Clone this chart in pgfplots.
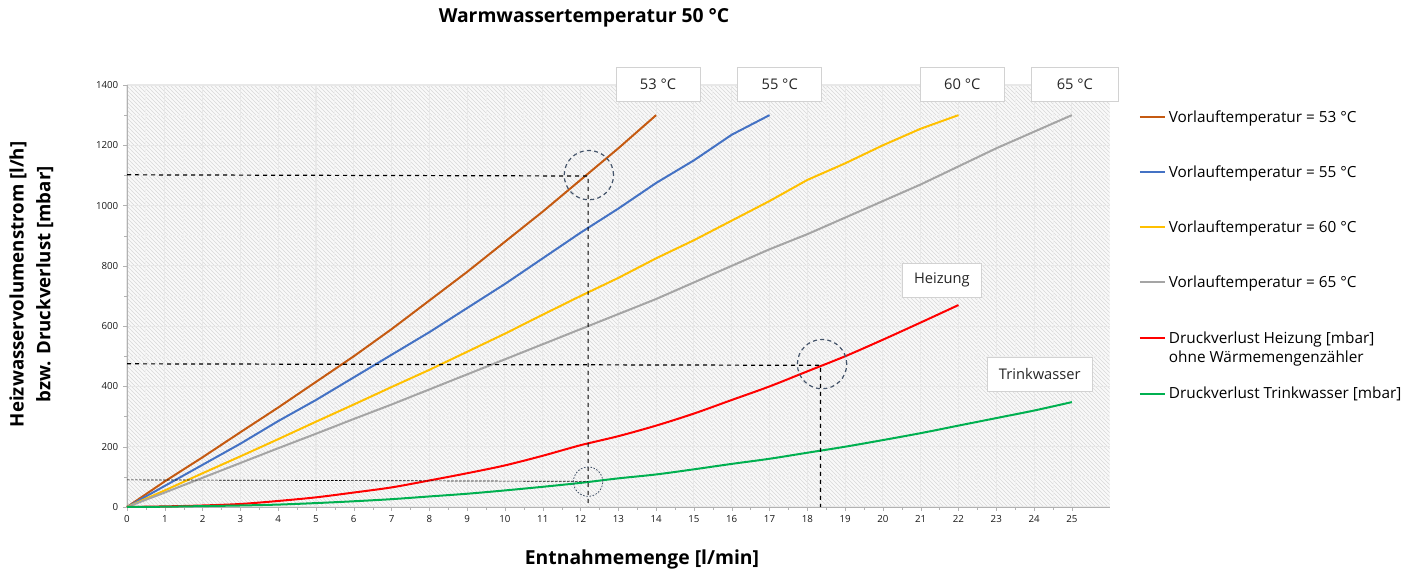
\documentclass[border=0pt]{standalone}
\usepackage{pgfplots}
\pgfplotsset{compat=1.18}
\usepackage{fontspec}
\setmainfont{Open Sans}
\usetikzlibrary{patterns}
\definecolor{corange}{HTML}{C55A11}
\definecolor{cblue}{HTML}{4472C4}
\definecolor{cyellow}{HTML}{FFC000}
\definecolor{cgray}{HTML}{A5A5A5}
\definecolor{cred}{HTML}{FF0000}
\definecolor{cgreen}{HTML}{00B050}
\definecolor{cslate}{HTML}{44546A}
\begin{document}
\begin{tikzpicture}
\path[use as bounding box] (0,0) rectangle (1062.75pt,428.25pt);
\begin{axis}[
  at={(95.25pt,48pt)}, anchor=south west,
  width=737pt, height=316.5pt, scale only axis,
  xmin=0, xmax=26, ymin=0, ymax=1400,
  xtick={0,...,25}, ytick={0,200,...,1400},
  minor y tick num=1, minor x tick num=1,
  grid=both,
  major grid style={gray!18, line width=0.8pt},
  minor grid style={gray!12, line width=0.6pt},
  axis x line*=bottom, axis y line*=left,
  axis line style={gray!60},
  tick style={gray!60},
  major tick length=3pt, minor tick length=2pt,
  tick align=outside,
  tick label style={font=\fontsize{7.3}{8}\selectfont, text=black!90},
  /pgf/number format/assume math mode=true,
  /pgf/number format/1000 sep={},
  axis background/.style={fill=gray!5, postaction={pattern=north west lines, pattern color=gray!30}},
  clip=false,
  legend style={at={(1.0254,0.953)}, anchor=north west, draw=none, fill=none,
    font=\fontsize{11.5}{14}\selectfont, row sep=27pt, cells={anchor=west, align=left}},
  legend cell align=left,
  legend image code/.code={\draw[#1, line width=1.5pt] (0pt,0pt) -- (19pt,0pt);},
  every axis plot/.append style={line width=1.5pt},
]
\addplot[corange] coordinates {(0,0)(1,85)(2,165)(3,248)(4,330)(5,415)(6,500)(7,590)(8,685)(9,780)(10,880)(11,980)(12,1085)(13,1190)(14,1300)};
\addplot[cblue] coordinates {(0,0)(1,70)(2,140)(3,210)(4,285)(5,355)(6,430)(7,505)(8,580)(9,660)(10,740)(11,825)(12,910)(13,990)(14,1075)(15,1150)(16,1235)(17,1300)};
\addplot[cyellow] coordinates {(0,0)(1,55)(2,112)(3,168)(4,225)(5,283)(6,340)(7,398)(8,455)(9,515)(10,575)(11,638)(12,700)(13,760)(14,825)(15,885)(16,950)(17,1015)(18,1085)(19,1140)(20,1200)(21,1255)(22,1300)};
\addplot[cgray] coordinates {(0,0)(1,48)(2,97)(3,146)(4,195)(5,243)(6,292)(7,340)(8,390)(9,440)(10,490)(11,540)(12,590)(13,640)(14,690)(15,745)(16,800)(17,855)(18,905)(19,960)(20,1015)(21,1070)(22,1130)(23,1190)(24,1245)(25,1300)};
\addplot[cred, smooth] coordinates {(0,0)(1,2)(2,5)(3,10)(4,20)(5,32)(6,48)(7,65)(8,88)(9,112)(10,138)(11,170)(12,205)(13,235)(14,270)(15,310)(16,355)(17,400)(18,450)(19,500)(20,555)(21,612)(22,670)};
\addplot[cgreen, smooth] coordinates {(0,0)(1,1)(2,3)(3,5)(4,8)(5,13)(6,19)(7,26)(8,35)(9,44)(10,55)(11,67)(12,80)(13,95)(14,108)(15,125)(16,143)(17,160)(18,180)(19,200)(20,222)(21,245)(22,270)(23,295)(24,320)(25,348)};
\legend{Vorlauftemperatur = 53 °C, Vorlauftemperatur = 55 °C, Vorlauftemperatur = 60 °C, Vorlauftemperatur = 65 °C, {\raisebox{0pt}[\height][0pt]{\begin{tabular}[t]{@{}l@{}}Druckverlust Heizung [mbar]\\ohne Wärmemengenzähler\end{tabular}}}, Druckverlust Trinkwasser [mbar]}
% annotation lines
\addplot[black, dashed, line width=0.9pt, forget plot] coordinates {(0,1102)(12.2,1098)(12.2,0)};
\addplot[black, dashed, line width=0.9pt, forget plot] coordinates {(0,475)(18.35,470)(18.35,0)};
\addplot[black, dash pattern=on 2pt off 1pt, line width=0.5pt, forget plot] coordinates {(0,90)(12.2,85)};
\addplot[only marks, mark=o, mark size=18.5pt, mark options={draw=cslate, dash pattern=on 3pt off 2.5pt, line width=0.9pt}, forget plot] coordinates {(12.22,1101)(18.39,474)};
\addplot[only marks, mark=o, mark size=11pt, mark options={draw=cslate, dash pattern=on 1.2pt off 1.2pt, line width=0.6pt}, forget plot] coordinates {(12.2,84)};
% label boxes
\tikzset{lbox/.style={draw=gray!35, fill=white, minimum height=25.5pt, font=\fontsize{11}{12}\selectfont, text=black!85}}
\node[lbox, minimum width=63pt] at (axis cs:14.05,1401) {53 °C};
\node[lbox, minimum width=63pt] at (axis cs:17.27,1401) {55 °C};
\node[lbox, minimum width=63pt] at (axis cs:22.1,1401) {60 °C};
\node[lbox, minimum width=65pt] at (axis cs:25.08,1401) {65 °C};
\node[lbox, minimum width=59pt] at (axis cs:21.56,753) {Heizung};
\node[lbox, minimum width=79pt] at (axis cs:24.15,441) {Trinkwasser};
\end{axis}
\node[font=\fontsize{14.5}{16}\selectfont\bfseries] at (438pt,414.75pt) {Warmwassertemperatur 50 °C};
\node[font=\fontsize{14.5}{16}\selectfont\bfseries] at (481.5pt,8.5pt) {Entnahmemenge [l/min]};
\node[font=\fontsize{14}{20}\selectfont\bfseries, rotate=90, align=center] at (23.6pt,215pt) {Heizwasservolumenstrom [l/h]\\bzw. Druckverlust [mbar]};
\end{tikzpicture}
\end{document}
